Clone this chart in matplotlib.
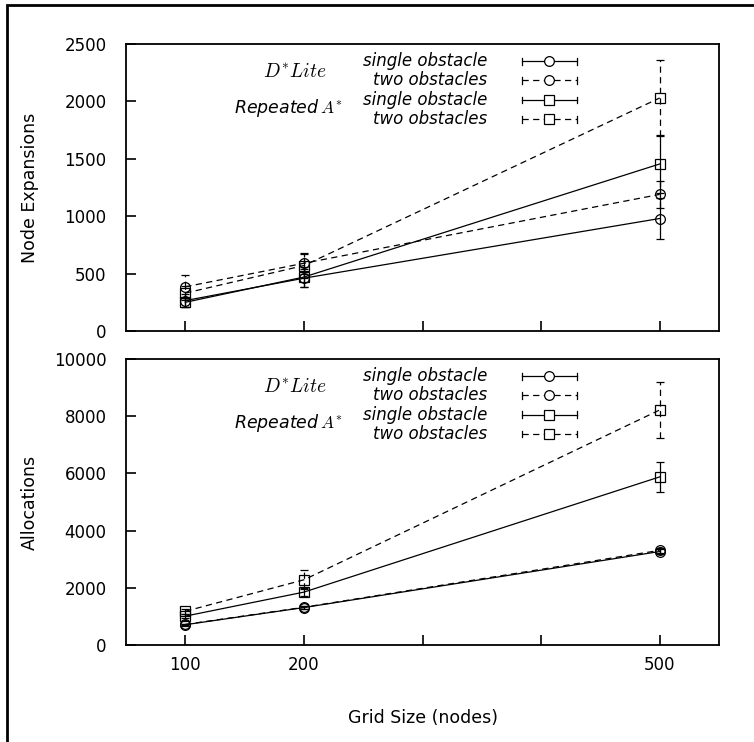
import matplotlib

matplotlib.use("Agg")
import matplotlib.pyplot as plt
from matplotlib.patches import Rectangle

plt.rcParams["font.family"] = ["DejaVu Sans"]
plt.rcParams["mathtext.fontset"] = "cm"

grid_sizes = [100, 200, 500]
xtick_values = [100, 200, 300, 400, 500]
xtick_labels = ["100", "200", "", "", "500"]

# node expansions (top panel)
exp_dlite_single = [265, 460, 980]
exp_dlite_single_err = [60, 80, 180]
exp_dlite_two = [385, 590, 1190]
exp_dlite_two_err = [100, 90, 120]
exp_astar_single = [250, 470, 1455]
exp_astar_single_err = [40, 90, 250]
exp_astar_two = [330, 570, 2030]
exp_astar_two_err = [60, 105, 330]

# allocations (bottom panel)
alloc_dlite_single = [710, 1310, 3270]
alloc_dlite_single_err = [30, 50, 80]
alloc_dlite_two = [720, 1320, 3310]
alloc_dlite_two_err = [30, 50, 80]
alloc_astar_single = [1010, 1850, 5880]
alloc_astar_single_err = [60, 150, 520]
alloc_astar_two = [1180, 2280, 8220]
alloc_astar_two_err = [80, 330, 980]

series_labels = ["single obstacle", "two obstacles", "single obstacle", "two obstacles"]
series_markers = ["o", "o", "s", "s"]
DASH = (0, (5, 3.5))
series_styles = ["-", DASH, "-", DASH]


def draw_panel(ax, values, errors, ymax, yticks, ylabel):
    for y, e, m, ls in zip(values, errors, series_markers, series_styles):
        line, caps, bars = ax.errorbar(
            grid_sizes, y, yerr=e, color="black", lw=0.9, ls=ls,
            marker=m, ms=7, mfc="none", mec="black", mew=0.9,
            capsize=3, capthick=0.9, elinewidth=0.9,
        )
        for b in bars:
            b.set_linestyle(ls)
    ax.set_xlim(50, 550)
    ax.set_ylim(0, ymax)
    ax.set_xticks(xtick_values)
    ax.set_xticklabels(xtick_labels)
    ax.set_yticks(yticks)
    ax.tick_params(direction="in", length=7, width=1.2, labelsize=12, pad=8)
    ax.tick_params(axis="y", pad=14)
    for s in ax.spines.values():
        s.set_linewidth(1.3)
    ax.set_ylabel(ylabel, fontsize=12.5)
    ax.yaxis.set_label_coords(-0.147, 0.5)

    # legend drawn gnuplot style
    rows = [0.94, 0.874, 0.805, 0.738]
    tr = ax.transAxes
    for yy, lab, m, ls in zip(rows, series_labels, series_markers, series_styles):
        ax.text(0.609, yy, lab, transform=tr, ha="right", va="center",
                fontsize=12, style="italic")
        ax.plot([0.668, 0.76], [yy, yy], transform=tr, color="black",
                lw=0.9, ls=ls)
        for cx in (0.668, 0.76):
            ax.plot([cx, cx], [yy - 0.012, yy + 0.012], transform=tr,
                    color="black", lw=0.9)
        ax.plot([0.714], [yy], transform=tr, marker=m, ms=7, mfc="white",
                mec="black", mew=0.9)
    ax.text(0.285, 0.903, r"$D^{*}Lite$", transform=tr, ha="center",
            va="center", fontsize=14)
    ax.text(0.273, 0.777, r"Repeated$\,A^{*}$", transform=tr, ha="center",
            va="center", fontsize=12.5, style="italic")


fig = plt.figure(figsize=(7.54, 7.42), dpi=100)
ax1 = fig.add_axes([0.1671, 0.5539, 0.7865, 0.3868])
ax2 = fig.add_axes([0.1671, 0.1307, 0.7865, 0.3854])

draw_panel(
    ax1,
    [exp_dlite_single, exp_dlite_two, exp_astar_single, exp_astar_two],
    [exp_dlite_single_err, exp_dlite_two_err, exp_astar_single_err, exp_astar_two_err],
    2500, [0, 500, 1000, 1500, 2000, 2500], "Node Expansions",
)
draw_panel(
    ax2,
    [alloc_dlite_single, alloc_dlite_two, alloc_astar_single, alloc_astar_two],
    [alloc_dlite_single_err, alloc_dlite_two_err, alloc_astar_single_err, alloc_astar_two_err],
    10000, [0, 2000, 4000, 6000, 8000, 10000], "Allocations",
)
ax1.tick_params(axis="x", labelbottom=False)
ax2.set_xlabel("Grid Size (nodes)", fontsize=12.5, labelpad=25)

# outer frame (cropped on right and bottom)
fig.add_artist(Rectangle((0.009, -0.2), 1.5, 0.2 + 0.9933, transform=fig.transFigure,
                         fill=False, lw=2, ec="black"))

fig.savefig("out.png", dpi=100)
